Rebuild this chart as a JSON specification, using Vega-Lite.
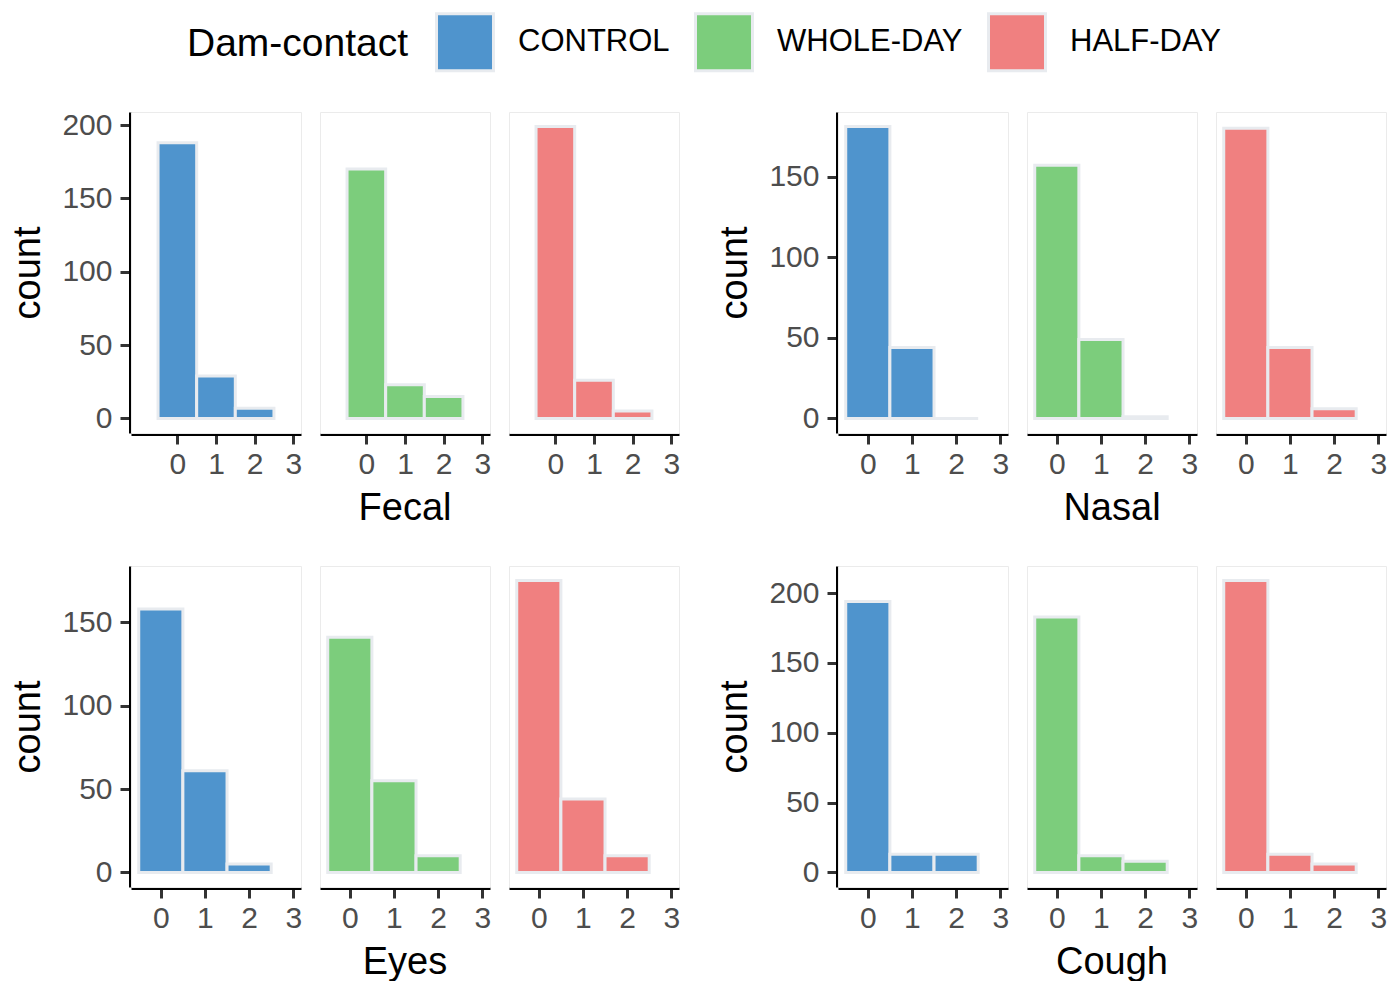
{
  "$schema": "https://vega.github.io/schema/vega-lite/v6.json",
  "padding": {"left": 9, "top": 12, "right": 0, "bottom": 0},
  "background": "white",
  "data": {"values": [
    {"symptom": "Fecal", "group": "CONTROL", "score": 0, "bin_start": -0.5, "bin_end": 0.5, "count": 188},
    {"symptom": "Fecal", "group": "CONTROL", "score": 1, "bin_start": 0.5, "bin_end": 1.5, "count": 29},
    {"symptom": "Fecal", "group": "CONTROL", "score": 2, "bin_start": 1.5, "bin_end": 2.5, "count": 7},
    {"symptom": "Fecal", "group": "WHOLE-DAY", "score": 0, "bin_start": -0.5, "bin_end": 0.5, "count": 170},
    {"symptom": "Fecal", "group": "WHOLE-DAY", "score": 1, "bin_start": 0.5, "bin_end": 1.5, "count": 23},
    {"symptom": "Fecal", "group": "WHOLE-DAY", "score": 2, "bin_start": 1.5, "bin_end": 2.5, "count": 15},
    {"symptom": "Fecal", "group": "HALF-DAY", "score": 0, "bin_start": -0.5, "bin_end": 0.5, "count": 199},
    {"symptom": "Fecal", "group": "HALF-DAY", "score": 1, "bin_start": 0.5, "bin_end": 1.5, "count": 26},
    {"symptom": "Fecal", "group": "HALF-DAY", "score": 2, "bin_start": 1.5, "bin_end": 2.5, "count": 5},
    {"symptom": "Nasal", "group": "CONTROL", "score": 0, "bin_start": -0.5, "bin_end": 0.5, "count": 181},
    {"symptom": "Nasal", "group": "CONTROL", "score": 1, "bin_start": 0.5, "bin_end": 1.5, "count": 44},
    {"symptom": "Nasal", "group": "CONTROL", "score": 2, "bin_start": 1.5, "bin_end": 2.5, "count": 0},
    {"symptom": "Nasal", "group": "WHOLE-DAY", "score": 0, "bin_start": -0.5, "bin_end": 0.5, "count": 157},
    {"symptom": "Nasal", "group": "WHOLE-DAY", "score": 1, "bin_start": 0.5, "bin_end": 1.5, "count": 49},
    {"symptom": "Nasal", "group": "WHOLE-DAY", "score": 2, "bin_start": 1.5, "bin_end": 2.5, "count": 1},
    {"symptom": "Nasal", "group": "HALF-DAY", "score": 0, "bin_start": -0.5, "bin_end": 0.5, "count": 180},
    {"symptom": "Nasal", "group": "HALF-DAY", "score": 1, "bin_start": 0.5, "bin_end": 1.5, "count": 44},
    {"symptom": "Nasal", "group": "HALF-DAY", "score": 2, "bin_start": 1.5, "bin_end": 2.5, "count": 6},
    {"symptom": "Eyes", "group": "CONTROL", "score": 0, "bin_start": -0.5, "bin_end": 0.5, "count": 158},
    {"symptom": "Eyes", "group": "CONTROL", "score": 1, "bin_start": 0.5, "bin_end": 1.5, "count": 61},
    {"symptom": "Eyes", "group": "CONTROL", "score": 2, "bin_start": 1.5, "bin_end": 2.5, "count": 5},
    {"symptom": "Eyes", "group": "WHOLE-DAY", "score": 0, "bin_start": -0.5, "bin_end": 0.5, "count": 141},
    {"symptom": "Eyes", "group": "WHOLE-DAY", "score": 1, "bin_start": 0.5, "bin_end": 1.5, "count": 55},
    {"symptom": "Eyes", "group": "WHOLE-DAY", "score": 2, "bin_start": 1.5, "bin_end": 2.5, "count": 10},
    {"symptom": "Eyes", "group": "HALF-DAY", "score": 0, "bin_start": -0.5, "bin_end": 0.5, "count": 175},
    {"symptom": "Eyes", "group": "HALF-DAY", "score": 1, "bin_start": 0.5, "bin_end": 1.5, "count": 44},
    {"symptom": "Eyes", "group": "HALF-DAY", "score": 2, "bin_start": 1.5, "bin_end": 2.5, "count": 10},
    {"symptom": "Cough", "group": "CONTROL", "score": 0, "bin_start": -0.5, "bin_end": 0.5, "count": 194},
    {"symptom": "Cough", "group": "CONTROL", "score": 1, "bin_start": 0.5, "bin_end": 1.5, "count": 13},
    {"symptom": "Cough", "group": "CONTROL", "score": 2, "bin_start": 1.5, "bin_end": 2.5, "count": 13},
    {"symptom": "Cough", "group": "WHOLE-DAY", "score": 0, "bin_start": -0.5, "bin_end": 0.5, "count": 183},
    {"symptom": "Cough", "group": "WHOLE-DAY", "score": 1, "bin_start": 0.5, "bin_end": 1.5, "count": 12},
    {"symptom": "Cough", "group": "WHOLE-DAY", "score": 2, "bin_start": 1.5, "bin_end": 2.5, "count": 8},
    {"symptom": "Cough", "group": "HALF-DAY", "score": 0, "bin_start": -0.5, "bin_end": 0.5, "count": 209},
    {"symptom": "Cough", "group": "HALF-DAY", "score": 1, "bin_start": 0.5, "bin_end": 1.5, "count": 13},
    {"symptom": "Cough", "group": "HALF-DAY", "score": 2, "bin_start": 1.5, "bin_end": 2.5, "count": 6}
  ]},
  "columns": 2,
  "spacing": {"row": 37, "column": 36},
  "concat": [
    {
      "transform": [{"filter": "datum.symptom === 'Fecal'"}],
      "facet": {"column": {"field": "group", "type": "nominal", "sort": ["CONTROL", "WHOLE-DAY", "HALF-DAY"], "header": {"title": "Fecal", "titleOrient": "bottom", "labels": false}}},
      "spacing": 17,
      "spec": {
        "width": 170, "height": 321,
        "mark": {"type": "bar", "stroke": "#e8ebef", "strokeWidth": 3, "opacity": 1},
        "encoding": {
          "x": {"field": "bin_start", "type": "quantitative", "scale": {"domain": [-1.2, 3.2], "nice": false, "zero": false}, "axis": {"title": null, "values": [0, 1, 2, 3]}},
          "x2": {"field": "bin_end"},
          "y": {"field": "count", "type": "quantitative", "scale": {"domain": [-9.95, 208.95], "nice": false, "zero": false}, "axis": {"title": "count", "values": [0, 50, 100, 150, 200]}},
          "y2": {"datum": 0},
          "color": {"field": "group", "type": "nominal", "scale": {"domain": ["CONTROL", "WHOLE-DAY", "HALF-DAY"], "range": ["#4F94CD", "#7CCD7C", "#F08080"]}, "legend": {"title": "Dam-contact"}}
        }
      }
    },
    {
      "transform": [{"filter": "datum.symptom === 'Nasal'"}],
      "facet": {"column": {"field": "group", "type": "nominal", "sort": ["CONTROL", "WHOLE-DAY", "HALF-DAY"], "header": {"title": "Nasal", "titleOrient": "bottom", "labels": false}}},
      "spacing": 17,
      "spec": {
        "width": 170, "height": 321,
        "mark": {"type": "bar", "stroke": "#e8ebef", "strokeWidth": 3, "opacity": 1},
        "encoding": {
          "x": {"field": "bin_start", "type": "quantitative", "scale": {"domain": [-0.675, 3.175], "nice": false, "zero": false}, "axis": {"title": null, "values": [0, 1, 2, 3]}},
          "x2": {"field": "bin_end"},
          "y": {"field": "count", "type": "quantitative", "scale": {"domain": [-9.05, 190.05], "nice": false, "zero": false}, "axis": {"title": "count", "values": [0, 50, 100, 150]}},
          "y2": {"datum": 0},
          "color": {"field": "group", "type": "nominal", "scale": {"domain": ["CONTROL", "WHOLE-DAY", "HALF-DAY"], "range": ["#4F94CD", "#7CCD7C", "#F08080"]}, "legend": {"title": "Dam-contact"}}
        }
      }
    },
    {
      "transform": [{"filter": "datum.symptom === 'Eyes'"}],
      "facet": {"column": {"field": "group", "type": "nominal", "sort": ["CONTROL", "WHOLE-DAY", "HALF-DAY"], "header": {"title": "Eyes", "titleOrient": "bottom", "labels": false}}},
      "spacing": 17,
      "spec": {
        "width": 170, "height": 321,
        "mark": {"type": "bar", "stroke": "#e8ebef", "strokeWidth": 3, "opacity": 1},
        "encoding": {
          "x": {"field": "bin_start", "type": "quantitative", "scale": {"domain": [-0.675, 3.175], "nice": false, "zero": false}, "axis": {"title": null, "values": [0, 1, 2, 3]}},
          "x2": {"field": "bin_end"},
          "y": {"field": "count", "type": "quantitative", "scale": {"domain": [-8.75, 183.75], "nice": false, "zero": false}, "axis": {"title": "count", "values": [0, 50, 100, 150]}},
          "y2": {"datum": 0},
          "color": {"field": "group", "type": "nominal", "scale": {"domain": ["CONTROL", "WHOLE-DAY", "HALF-DAY"], "range": ["#4F94CD", "#7CCD7C", "#F08080"]}, "legend": {"title": "Dam-contact"}}
        }
      }
    },
    {
      "transform": [{"filter": "datum.symptom === 'Cough'"}],
      "facet": {"column": {"field": "group", "type": "nominal", "sort": ["CONTROL", "WHOLE-DAY", "HALF-DAY"], "header": {"title": "Cough", "titleOrient": "bottom", "labels": false}}},
      "spacing": 17,
      "spec": {
        "width": 170, "height": 321,
        "mark": {"type": "bar", "stroke": "#e8ebef", "strokeWidth": 3, "opacity": 1},
        "encoding": {
          "x": {"field": "bin_start", "type": "quantitative", "scale": {"domain": [-0.675, 3.175], "nice": false, "zero": false}, "axis": {"title": null, "values": [0, 1, 2, 3]}},
          "x2": {"field": "bin_end"},
          "y": {"field": "count", "type": "quantitative", "scale": {"domain": [-10.45, 219.45], "nice": false, "zero": false}, "axis": {"title": "count", "values": [0, 50, 100, 150, 200]}},
          "y2": {"datum": 0},
          "color": {"field": "group", "type": "nominal", "scale": {"domain": ["CONTROL", "WHOLE-DAY", "HALF-DAY"], "range": ["#4F94CD", "#7CCD7C", "#F08080"]}, "legend": {"title": "Dam-contact"}}
        }
      }
    }
  ],
  "config": {
    "font": "Liberation Sans",
    "view": {"stroke": "#ebebeb", "strokeWidth": 1},
    "axis": {
      "grid": false,
      "domainColor": "black", "domainWidth": 3,
      "tickColor": "#333333", "tickWidth": 3, "tickSize": 10,
      "labelFont": "Liberation Sans", "labelFontSize": 30, "labelColor": "#4d4d4d", "labelPadding": 5,
      "titleFont": "Liberation Sans", "titleFontSize": 38, "titleFontWeight": "normal", "titleColor": "black", "titlePadding": 14
    },
    "axisX": {"labelFlush": false},
    "axisY": {"labelFlush": false, "labelPadding": 8},
    "header": {"titleFont": "Liberation Sans", "titleFontSize": 38, "titleFontWeight": "normal", "titleColor": "black", "titlePadding": 1},
    "legend": {
      "orient": "none", "legendX": 56, "legendY": -100,
      "direction": "horizontal", "titleOrient": "left",
      "titleFont": "Liberation Sans", "titleFontSize": 39, "titleFontWeight": "normal", "titleColor": "black", "titlePadding": 26, "titleLimit": 0,
      "labelFont": "Liberation Sans", "labelFontSize": 31, "labelColor": "black", "labelOffset": 23, "labelLimit": 0,
      "symbolType": "square", "symbolSize": 3249, "symbolStrokeColor": "#e8ebef", "symbolStrokeWidth": 3, "symbolOpacity": 1,
      "columnPadding": 19
    }
  }
}
